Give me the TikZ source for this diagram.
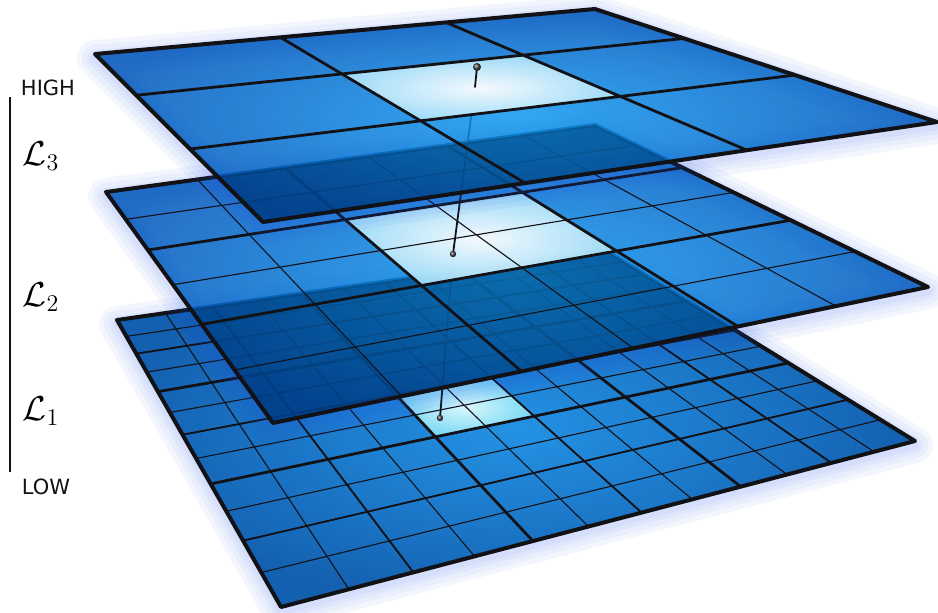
\documentclass[tikz,border=0pt]{standalone}
\usepackage{fontspec}
\newfontfamily\labelfont{DejaVu Sans}
\definecolor{tilein}{RGB}{14,152,240}
\definecolor{tileout}{RGB}{0,86,188}
\definecolor{lowin}{RGB}{36,146,228}
\definecolor{lowout}{RGB}{20,96,176}
\definecolor{glowblue}{RGB}{30,80,230}
\definecolor{gridline}{RGB}{18,18,22}
\definecolor{hotin}{RGB}{255,255,255}
\definecolor{hotout}{RGB}{165,224,249}
\definecolor{lowhotin}{RGB}{218,248,253}
\definecolor{lowhotout}{RGB}{120,216,244}

% square (u,v) -> layer quad, perspective map
\newcommand\setquad[9]{%
  \pgfmathsetmacro\qsx{#2-#4+#6-#8}%
  \pgfmathsetmacro\qsy{#3-#5+#7-#9}%
  \pgfmathsetmacro\qdxa{#4-#6}\pgfmathsetmacro\qdya{#5-#7}%
  \pgfmathsetmacro\qdxb{#8-#6}\pgfmathsetmacro\qdyb{#9-#7}%
  \pgfmathsetmacro\qden{(\qdxa)*(\qdyb)-(\qdxb)*(\qdya)}%
  \pgfmathsetmacro\qg{((\qsx)*(\qdyb)-(\qdxb)*(\qsy))/(\qden)}%
  \pgfmathsetmacro\qh{((\qdxa)*(\qsy)-(\qsx)*(\qdya))/(\qden)}%
  \pgfmathsetmacro\qa{#4-#2+(\qg)*#4}%
  \pgfmathsetmacro\qb{#8-#2+(\qh)*#8}%
  \pgfmathsetmacro\qd{#5-#3+(\qg)*#5}%
  \pgfmathsetmacro\qe{#9-#3+(\qh)*#9}%
  \def\qc{#2}\def\qf{#3}%
  \coordinate (#1L) at (#2,#3);
  \coordinate (#1B) at (#4,#5);
  \coordinate (#1R) at (#6,#7);
  \coordinate (#1F) at (#8,#9);
}
\pgfkeys{/quad/.cd,u/.store in=\qu,v/.store in=\qv}
\tikzdeclarecoordinatesystem{quad}{%
  \pgfkeys{/quad/.cd,#1}%
  \pgfmathsetmacro\qw{(\qg)*(\qu)+(\qh)*(\qv)+1}%
  \pgfmathsetmacro\qx{((\qa)*(\qu)+(\qb)*(\qv)+\qc)/(\qw)}%
  \pgfmathsetmacro\qy{((\qd)*(\qu)+(\qe)*(\qv)+\qf)/(\qw)}%
  \pgfpointxy{\qx}{\qy}}

\tikzset{
  border/.style={draw=gridline,line width=2pt},
  thickline/.style={draw=gridline,line width=1.4pt},
  medline/.style={draw=gridline,line width=.9pt},
  thinline/.style={draw=gridline,line width=.55pt},
  glowline/.style={draw=glowblue,line width=#1,opacity=.05},
  needle/.style={draw=gridline,line width=.9pt},
}

\begin{document}
\begin{tikzpicture}[x=50pt,y=-50pt,line join=round,line cap=round]
	\useasboundingbox (0,0) rectangle (9.38,6.12);
	% scale on the left
	\coordinate (bartop) at (0.10,0.97);
	\coordinate (barbot) at (0.10,4.72);
	\draw[gridline,line width=.6pt,line cap=butt] (bartop) -- (barbot);
	\node[font=\labelfont\fontsize{10.5}{12}\selectfont,text=gridline] (high) at (0.48,0.88) {HIGH};
	\node[font=\labelfont\fontsize{10.5}{12}\selectfont,text=gridline] (low) at (0.46,4.87) {LOW};
	\foreach \k/\y in {3/1.56,2/2.97,1/4.11}
		\node[font=\fontsize{17}{20}\selectfont] (l\k) at (0.41,\y) {$\mathcal{L}_\k$};

	\coordinate (topball) at (4.77,0.67);
	\coordinate (topbase) at (4.75,0.87);
	\coordinate (midball) at (4.53,2.54);
	\coordinate (lowball) at (4.40,4.18);

	% L1
	\setquad{b}{1.17}{3.20}{6.05}{2.50}{9.15}{4.41}{2.81}{6.07}
	\foreach \w in {18,13,8,4}
		\draw[glowline=\w pt,yshift=-2pt] (quad cs:u=0,v=0) -- (quad cs:u=1,v=0) -- (quad cs:u=1,v=1) -- (quad cs:u=0,v=1) -- cycle;
	\shade[inner color=lowin,outer color=lowout] (bL) -- (bB) -- (bR) -- (bF) -- cycle;
	\shade[inner color=lowhotin,outer color=lowhotout] (quad cs:u=4/12,v=6/12) -- (quad cs:u=6/12,v=6/12) -- (quad cs:u=6/12,v=8/12) -- (quad cs:u=4/12,v=8/12) -- cycle;
	\foreach \i in {1,...,11}
		\draw[thinline] (quad cs:u=\i/12,v=0) -- (quad cs:u=\i/12,v=1) (quad cs:u=0,v=\i/12) -- (quad cs:u=1,v=\i/12);
	\foreach \i in {2,6,10}
		\draw[medline] (quad cs:u=\i/12,v=0) -- (quad cs:u=\i/12,v=1) (quad cs:u=0,v=\i/12) -- (quad cs:u=1,v=\i/12);
	\foreach \i in {4,8}
		\draw[thickline] (quad cs:u=\i/12,v=0) -- (quad cs:u=\i/12,v=1) (quad cs:u=0,v=\i/12) -- (quad cs:u=1,v=\i/12);
	\draw[border] (bL) -- (bB) -- (bR) -- (bF) -- cycle;
	\draw[needle] (midball) -- (lowball);
	\shade[ball color=gridline!80] (lowball) circle (1.6pt);

	% L2
	\setquad{m}{1.06}{1.92}{5.95}{1.25}{9.28}{2.87}{2.73}{4.23}
	\foreach \w in {18,13,8,4}
		\draw[glowline=\w pt,yshift=-2pt] (quad cs:u=0,v=0) -- (quad cs:u=1,v=0) -- (quad cs:u=1,v=1) -- (quad cs:u=0,v=1) -- cycle;
	\shade[inner color=tilein,outer color=tileout,fill opacity=.85] (mL) -- (mB) -- (mR) -- (mF) -- cycle;
	\begin{scope}
		\clip (bL) -- (bB) -- (bR) -- (bF) -- cycle;
		\fill[black,opacity=.25] (mL) -- (mB) -- (mR) -- (mF) -- cycle;
	\end{scope}
	\shade[inner color=hotin,outer color=hotout,fill opacity=.95] (quad cs:u=1/3,v=1/3) -- (quad cs:u=2/3,v=1/3) -- (quad cs:u=2/3,v=2/3) -- (quad cs:u=1/3,v=2/3) -- cycle;
	\foreach \i in {1,...,5}
		\draw[thinline] (quad cs:u=\i/6,v=0) -- (quad cs:u=\i/6,v=1) (quad cs:u=0,v=\i/6) -- (quad cs:u=1,v=\i/6);
	\foreach \i in {2,4}
		\draw[thickline] (quad cs:u=\i/6,v=0) -- (quad cs:u=\i/6,v=1) (quad cs:u=0,v=\i/6) -- (quad cs:u=1,v=\i/6);
	\draw[border] (mL) -- (mB) -- (mR) -- (mF) -- cycle;
	\draw[needle] (topbase) -- (midball);
	\shade[ball color=gridline!80] (midball) circle (1.6pt);

	% L3
	\setquad{t}{0.95}{0.54}{5.95}{0.09}{9.37}{1.22}{2.63}{2.22}
	\foreach \w in {18,13,8,4}
		\draw[glowline=\w pt,yshift=-2pt] (quad cs:u=0,v=0) -- (quad cs:u=1,v=0) -- (quad cs:u=1,v=1) -- (quad cs:u=0,v=1) -- cycle;
	\shade[inner color=tilein,outer color=tileout,fill opacity=.85] (tL) -- (tB) -- (tR) -- (tF) -- cycle;
	\begin{scope}
		\clip (mL) -- (mB) -- (mR) -- (mF) -- cycle;
		\fill[black,opacity=.25] (tL) -- (tB) -- (tR) -- (tF) -- cycle;
	\end{scope}
	\shade[inner color=hotin,outer color=hotout,fill opacity=.95] (quad cs:u=1/3,v=1/3) -- (quad cs:u=2/3,v=1/3) -- (quad cs:u=2/3,v=2/3) -- (quad cs:u=1/3,v=2/3) -- cycle;
	\foreach \i in {1,2}
		\draw[thickline] (quad cs:u=\i/3,v=0) -- (quad cs:u=\i/3,v=1) (quad cs:u=0,v=\i/3) -- (quad cs:u=1,v=\i/3);
	\draw[border] (tL) -- (tB) -- (tR) -- (tF) -- cycle;
	\draw[needle] (topbase) -- (topball);
	\shade[ball color=gridline!80] (topball) circle (2pt);
\end{tikzpicture}
\end{document}
